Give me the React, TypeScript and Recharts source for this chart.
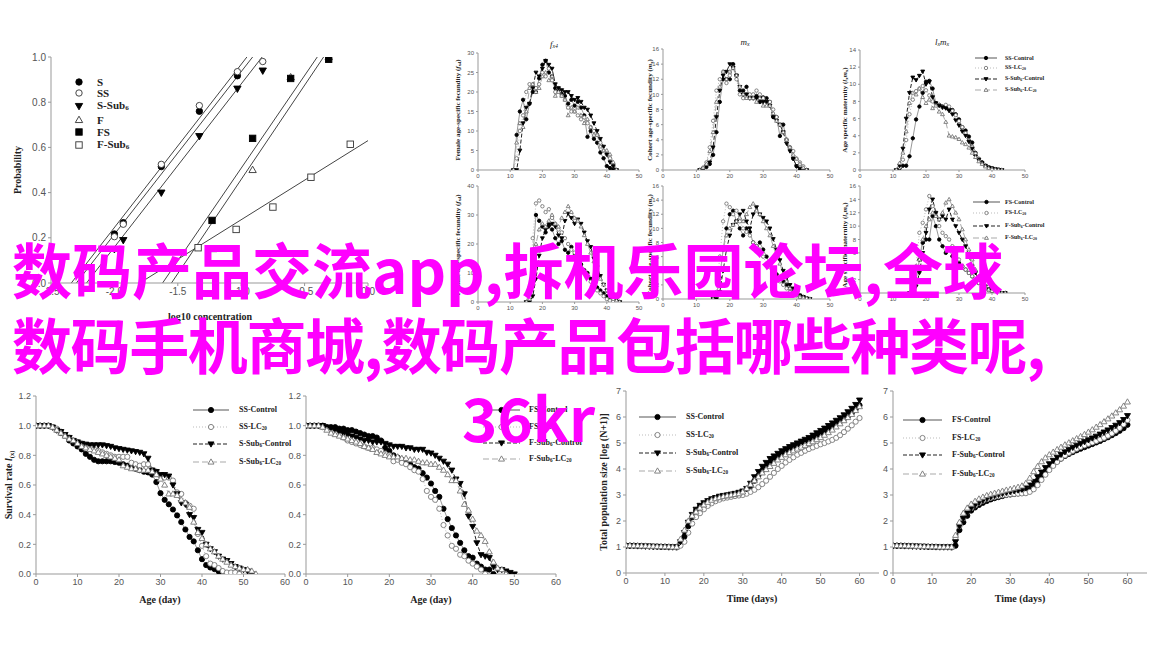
import React from "react";
import { LineChart, Line, XAxis, YAxis } from "recharts";

const SANS = "'Liberation Sans', Arial, sans-serif";
const SERIF = "'Liberation Serif', 'Times New Roman', serif";

// top-left: probability vs log10 concentration
const S_X = [-2.0, -1.93, -1.63, -1.33, -1.03];
const S_Y = [0.217, 0.267, 0.515, 0.76, 0.917];
const SS_X = [-2.0, -1.93, -1.63, -1.33, -1.03, -0.83];
const SS_Y = [0.205, 0.26, 0.525, 0.785, 0.935, 0.98];
const SSUB_X = [-2.0, -1.93, -1.63, -1.33, -1.03, -0.83];
const SSUB_Y = [0.15, 0.19, 0.4, 0.65, 0.86, 0.94];
const F_X = [-1.22, -0.91, -0.61, -0.31];
const F_Y = [0.15, 0.5, 0.91, 1.0];
const FS_X = [-1.23, -0.91, -0.61, -0.31];
const FS_Y = [0.277, 0.64, 0.905, 0.99];
const FSUB_X = [-1.34, -1.04, -0.75, -0.45, -0.14];
const FSUB_Y = [0.156, 0.237, 0.336, 0.468, 0.614];
// fitted lines (endpoints)
const FIT_Y = [0, 1];
const FIT_S_X = [-2.3, -0.91];
const FIT_SS_X = [-2.34, -0.955];
const FIT_SSUB_X = [-2.22, -0.835];
const FIT_F_X = [-1.62, -0.4];
const FIT_FS_X = [-1.55, -0.35];
const FIT_FSUB_X = [-1.8, 0];
const FIT_FSUB_Y = [0, 0.63];

// small panels: age (days)
const AGES_S = [11, 12, 13, 14, 15, 16, 17, 18, 19, 20, 21, 22, 23, 24, 25, 26, 27, 28, 29, 30, 31, 32, 33, 34, 35, 36, 37, 38, 39, 40, 41, 42, 43];
const AGES_F = [15, 16, 17, 18, 19, 20, 21, 22, 23, 24, 25, 26, 27, 28, 29, 30, 31, 32, 33, 34, 35, 36, 37, 38, 39, 40, 41, 42, 43, 44];

// f_x4 (S strain)
const FX_CTL = [0, 9, 15, 18, 13, 17, 20, 20, 23.5, 27, 28, 25, 24, 21, 20.5, 19.5, 19, 17, 18, 16.5, 17.5, 16, 14, 8.5, 10, 8, 7, 4.5, 3, 1, 0.5, 0.3, 0];
const FX_SUBCTL = [0, 0, 5, 12, 16, 17, 21, 25, 24, 26, 28, 27, 26, 22, 21, 20.5, 20, 20, 19, 18, 18.5, 17.5, 16, 15.5, 14, 12, 10, 8, 6, 4, 2, 1, 0];
const FX_LC = [0, 3, 10, 14, 20, 22, 22, 21, 22, 25, 24, 26, 23, 20, 21, 19, 18, 16, 15, 15, 14, 13, 13.5, 12, 11, 10, 9, 7, 5, 4, 3, 1, 0];
const FX_SUBLC = [0, 7, 12, 11, 15, 21, 22, 20, 21, 24, 25, 23, 24, 19, 20, 19, 18, 14, 16, 15, 16, 14, 12, 13, 11, 9, 9, 6, 5, 5, 4, 2, 0];
// m_x (S strain)
const MX_CTL = [0, 0.2, 0.4, 0.8, 2, 5, 9, 12, 12, 12, 14, 12.5, 10.5, 10.5, 11, 9.5, 9.5, 9.8, 9, 9.6, 9.5, 9, 7, 7, 4.5, 6, 4, 3, 1.5, 0.5, 0, 0, 0];
const MX_SUBCTL = [0, 0.1, 0.5, 1, 3, 7, 10.5, 12.5, 13, 14, 13.5, 12.5, 11, 10, 10, 9.5, 9.5, 9.5, 9.5, 9, 9, 8.5, 7, 6.5, 6, 5, 3.5, 2.5, 1.5, 0.5, 0.2, 0, 0];
const MX_LC = [0, 0.3, 1, 3, 6.5, 10.5, 12, 13, 11.5, 12.5, 13.5, 12, 10, 9.5, 10, 10, 10, 10.5, 10, 9.5, 9, 9, 8, 7, 6, 5, 4, 3, 2.5, 1.5, 1, 0.5, 0];
const MX_SUBLC = [0, 0.3, 0.8, 2.5, 5, 9, 11, 13, 12, 13, 13.5, 12.5, 11, 10, 9.5, 9.5, 9.5, 9, 9.5, 8.5, 8.5, 8.5, 7.5, 6.5, 6, 5, 4, 3, 2, 1.5, 0.8, 0.3, 0];
// l_x m_x (S strain)
const LM_CTL = [0, 0.2, 0.5, 0.5, 1.6, 3.7, 5.9, 7.4, 9, 10.3, 10.4, 9.5, 7.8, 7.6, 7.4, 7.3, 7.1, 7, 6.5, 5.9, 5, 4.6, 3.9, 3.2, 2, 1.3, 0.9, 0.5, 0.3, 0.2, 0.1, 0.05, 0];
const LM_SUBCTL = [0, 0.5, 2.5, 6, 9, 10.8, 10.5, 11, 11.5, 10, 10.3, 8.5, 7.8, 7.5, 7.3, 7.2, 6.9, 6.5, 5.8, 5.2, 4.5, 4, 3.3, 2.5, 1.6, 1.2, 0.8, 0.5, 0.3, 0.2, 0.1, 0, 0];
const LM_LC = [0, 0.3, 1.2, 3.5, 6.5, 8.2, 9.2, 9.5, 9.8, 9.3, 8.7, 8, 7.7, 7.6, 7.3, 7.6, 7.4, 6.9, 6.4, 5.7, 5, 4.3, 3.4, 2.7, 1.9, 1.3, 0.8, 0.5, 0.3, 0.2, 0.1, 0.05, 0];
const LM_SUBLC = [0, 0.8, 2, 4.5, 7.8, 9, 8.8, 9.5, 8.5, 7.8, 8.2, 7.2, 7.5, 6.8, 6.5, 5.6, 4, 3.9, 3.8, 3.6, 3.2, 3, 2.6, 2, 1.5, 1, 0.7, 0.4, 0.2, 0.1, 0.05, 0, 0];
// f_x4 (F strain)
const FFX_CTL = [0, 3, 15, 30, 28, 26, 24, 27, 25, 22, 20, 21, 18, 17, 19, 16, 15, 13, 11, 10, 8, 7, 5, 4, 3, 2, 1.5, 1, 0.5, 0];
const FFX_SUBCTL = [0, 0, 2, 8, 16, 22, 25, 26, 27, 26, 23, 22, 28, 30.5, 29, 27, 28.5, 27, 24, 21, 19, 15, 12, 9, 6, 4, 3, 2, 1, 0];
const FFX_LC = [0, 5, 22, 34, 35, 33, 31, 32, 29, 27, 25, 24, 22, 20, 18, 17, 14, 12, 10, 9, 7, 6, 4, 3, 2, 1, 0.5, 0.3, 0.1, 0];
const FFX_SUBLC = [0, 1, 10, 20, 25, 27, 26, 28, 30, 27, 26, 29, 31, 33, 31, 29, 28, 26, 23, 20, 17, 14, 11, 8, 6, 4, 2, 1, 0.5, 0];
// m_x (F strain)
const FMX_CTL = [0, 0.5, 3, 7, 10, 12, 12.5, 11, 10, 9, 10, 9.5, 8, 7.5, 8, 7, 6, 5, 4, 3.5, 3, 2.5, 2, 1.5, 1, 0.7, 0.5, 0.3, 0.1, 0];
const FMX_SUBCTL = [0, 0, 1, 4, 7, 9, 10.5, 11, 12, 12.5, 11, 10, 12, 13, 12, 11.5, 11, 10, 8.5, 7, 5.5, 4, 3, 2, 1.5, 1, 0.5, 0.3, 0.1, 0];
const FMX_LC = [0, 1, 6, 11, 13.5, 13, 12, 12.5, 11, 10, 9.5, 9, 8, 7.5, 7, 6, 5, 4.5, 4, 3, 2.5, 2, 1.5, 1, 0.7, 0.5, 0.3, 0.2, 0.1, 0];
const FMX_SUBLC = [0, 0.5, 3, 7, 9, 10, 10.5, 11, 11.5, 11, 12, 13, 13.5, 12.5, 12, 11, 10, 9, 7.5, 6, 5, 3.5, 2.5, 1.5, 1, 0.6, 0.3, 0.2, 0.1, 0];
// l_x m_x (F strain)
const FLM_CTL = [0, 0.5, 2, 5, 7.5, 8, 8, 11.5, 10, 8, 7, 6, 6.5, 5.5, 5, 4.5, 4, 3.5, 3, 2.5, 2, 1.5, 1.2, 0.8, 0.5, 0.3, 0.2, 0.1, 0, 0];
const FLM_SUBCTL = [0, 0, 1, 3, 6, 9, 12.5, 14, 12, 11, 11.5, 11, 12.5, 11, 10, 9, 8, 7, 5.5, 4, 3, 2, 1.5, 1, 0.6, 0.3, 0.2, 0.1, 0, 0];
const FLM_LC = [0, 1, 4, 9, 10.5, 12.5, 14.5, 13, 12, 10, 9, 8.5, 8, 7, 6, 5, 4, 3.5, 3, 2.5, 2, 1.5, 1, 0.7, 0.4, 0.2, 0.1, 0.05, 0, 0];
const FLM_SUBLC = [0, 0.5, 2, 5, 8, 10, 11, 12, 11.5, 11, 12, 13.5, 14, 13, 12, 11, 9.5, 8, 6.5, 5, 3.5, 2.5, 1.5, 1, 0.5, 0.3, 0.2, 0.1, 0, 0];

// bottom row: day 0..60
const DAYS = [0, 1, 2, 3, 4, 5, 6, 7, 8, 9, 10, 11, 12, 13, 14, 15, 16, 17, 18, 19, 20, 21, 22, 23, 24, 25, 26, 27, 28, 29, 30, 31, 32, 33, 34, 35, 36, 37, 38, 39, 40, 41, 42, 43, 44, 45, 46, 47, 48, 49, 50, 51, 52, 53, 54, 55, 56, 57, 58, 59, 60];

// survival rate l_x, S strain
const SURV_SS_CTL = [1, 1, 1, 1, 0.99, 0.97, 0.95, 0.93, 0.9, 0.88, 0.86, 0.84, 0.81, 0.79, 0.77, 0.76, 0.76, 0.76, 0.76, 0.755, 0.75, 0.74, 0.73, 0.72, 0.71, 0.7, 0.69, 0.685, 0.67, 0.62, 0.545, 0.5, 0.47, 0.435, 0.395, 0.35, 0.3, 0.25, 0.22, 0.16, 0.1, 0.06, 0.044, 0.033, 0.018, 0];
const SURV_SS_LC = [1, 1, 1, 1, 0.99, 0.98, 0.96, 0.93, 0.92, 0.9, 0.89, 0.88, 0.87, 0.86, 0.84, 0.83, 0.82, 0.81, 0.8, 0.79, 0.79, 0.79, 0.79, 0.75, 0.74, 0.73, 0.74, 0.74, 0.7, 0.69, 0.66, 0.65, 0.65, 0.63, 0.55, 0.54, 0.48, 0.46, 0.44, 0.27, 0.19, 0.12, 0.07, 0.06, 0.04, 0.02, 0.01, 0.01, 0.01, 0];
const SURV_SSUB_CTL = [1, 1, 1, 1, 0.99, 0.97, 0.96, 0.94, 0.92, 0.9, 0.89, 0.88, 0.875, 0.87, 0.87, 0.87, 0.87, 0.865, 0.86, 0.85, 0.845, 0.84, 0.835, 0.83, 0.825, 0.82, 0.81, 0.78, 0.7, 0.69, 0.67, 0.67, 0.66, 0.6, 0.54, 0.48, 0.47, 0.4, 0.38, 0.3, 0.28, 0.2, 0.17, 0.15, 0.12, 0.1, 0.09, 0.07, 0.05, 0.04, 0.03, 0.02, 0];
const SURV_SSUB_LC = [1, 1, 1, 1, 0.99, 0.97, 0.95, 0.93, 0.91, 0.9, 0.88, 0.86, 0.85, 0.84, 0.83, 0.82, 0.81, 0.8, 0.79, 0.78, 0.77, 0.73, 0.72, 0.71, 0.71, 0.7, 0.7, 0.7, 0.69, 0.67, 0.64, 0.6, 0.54, 0.54, 0.53, 0.5, 0.48, 0.45, 0.35, 0.28, 0.24, 0.2, 0.17, 0.15, 0.12, 0.1, 0.08, 0.06, 0.05, 0.04, 0.03, 0.03, 0.02, 0];
// survival rate l_x, F strain
const SURV_FS_CTL = [1, 1, 1, 1, 1, 0.99, 0.99, 0.99, 0.98, 0.98, 0.97, 0.97, 0.96, 0.95, 0.94, 0.93, 0.93, 0.92, 0.9, 0.85, 0.83, 0.8, 0.785, 0.77, 0.76, 0.74, 0.72, 0.71, 0.68, 0.65, 0.61, 0.56, 0.52, 0.44, 0.37, 0.31, 0.26, 0.21, 0.16, 0.12, 0.11, 0.07, 0.05, 0.03, 0.03, 0];
const SURV_FS_LC = [1, 1, 1, 1, 0.99, 0.98, 0.97, 0.96, 0.94, 0.92, 0.9, 0.89, 0.88, 0.87, 0.86, 0.85, 0.85, 0.84, 0.83, 0.81, 0.8, 0.76, 0.77, 0.75, 0.74, 0.72, 0.7, 0.69, 0.64, 0.56, 0.52, 0.5, 0.44, 0.33, 0.26, 0.19, 0.17, 0.13, 0.12, 0.09, 0.07, 0.05, 0.03, 0];
const SURV_FSUB_CTL = [1, 1, 1, 1, 1, 0.99, 0.98, 0.97, 0.96, 0.95, 0.94, 0.93, 0.92, 0.91, 0.9, 0.9, 0.89, 0.89, 0.89, 0.88, 0.87, 0.86, 0.86, 0.86, 0.85, 0.85, 0.84, 0.84, 0.84, 0.82, 0.815, 0.8, 0.78, 0.76, 0.74, 0.7, 0.64, 0.61, 0.54, 0.39, 0.32, 0.21, 0.13, 0.12, 0.11, 0.05, 0.03, 0.03, 0.02, 0.01, 0];
const SURV_FSUB_LC = [1, 1, 1, 1, 0.99, 0.97, 0.95, 0.94, 0.93, 0.92, 0.91, 0.9, 0.89, 0.88, 0.86, 0.85, 0.84, 0.82, 0.81, 0.8, 0.79, 0.79, 0.79, 0.78, 0.78, 0.77, 0.77, 0.76, 0.75, 0.75, 0.74, 0.74, 0.72, 0.7, 0.67, 0.63, 0.63, 0.56, 0.47, 0.43, 0.37, 0.29, 0.26, 0.22, 0.15, 0.08, 0.04, 0.03, 0];

// total population size log(N+1), S strain
const POP_SS_CTL = [1.05, 1.05, 1.05, 1.04, 1.04, 1.03, 1.03, 1.02, 1.02, 1.01, 1.01, 1.0, 1.0, 1.0, 1.15, 1.4, 1.8, 2.15, 2.4, 2.55, 2.65, 2.75, 2.82, 2.88, 2.92, 2.96, 2.99, 3.01, 3.03, 3.06, 3.1, 3.2, 3.35, 3.55, 3.75, 3.95, 4.1, 4.25, 4.4, 4.5, 4.6, 4.7, 4.8, 4.88, 4.95, 5.02, 5.08, 5.15, 5.22, 5.3, 5.38, 5.46, 5.55, 5.64, 5.73, 5.83, 5.93, 6.03, 6.15, 6.3, 6.45];
const POP_SS_LC = [1.05, 1.05, 1.04, 1.04, 1.03, 1.03, 1.02, 1.02, 1.01, 1.0, 1.0, 0.99, 0.99, 0.98, 1.05, 1.2, 1.55, 1.9, 2.15, 2.3, 2.45, 2.58, 2.68, 2.76, 2.82, 2.87, 2.9, 2.93, 2.96, 2.98, 3.0, 3.05, 3.12, 3.2, 3.3, 3.42, 3.55, 3.7, 3.85, 4.0, 4.12, 4.25, 4.35, 4.45, 4.55, 4.62, 4.7, 4.77, 4.83, 4.89, 4.95, 5.0, 5.06, 5.12, 5.2, 5.3, 5.42, 5.55, 5.68, 5.82, 5.96];
const POP_SSUB_CTL = [1.05, 1.05, 1.05, 1.04, 1.04, 1.03, 1.03, 1.02, 1.02, 1.01, 1.01, 1.0, 1.0, 1.0, 1.2, 1.55, 1.95, 2.25, 2.45, 2.6, 2.7, 2.78, 2.85, 2.9, 2.95, 2.98, 3.0, 3.03, 3.06, 3.1, 3.15, 3.25, 3.45, 3.7, 3.9, 4.1, 4.25, 4.4, 4.5, 4.6, 4.7, 4.78, 4.86, 4.93, 5.0, 5.07, 5.14, 5.21, 5.3, 5.39, 5.48, 5.57, 5.67, 5.77, 5.87, 5.97, 6.08, 6.2, 6.33, 6.48, 6.65];
const POP_SSUB_LC = [1.06, 1.06, 1.05, 1.05, 1.04, 1.04, 1.03, 1.03, 1.02, 1.02, 1.01, 1.01, 1.0, 1.0, 1.3, 1.65, 2.0, 2.2, 2.35, 2.5, 2.62, 2.72, 2.8, 2.86, 2.9, 2.94, 2.97, 3.0, 3.02, 3.05, 3.12, 3.25, 3.4, 3.55, 3.7, 3.85, 3.98, 4.1, 4.22, 4.35, 4.45, 4.55, 4.63, 4.7, 4.77, 4.84, 4.91, 4.98, 5.05, 5.13, 5.21, 5.3, 5.4, 5.5, 5.62, 5.74, 5.86, 5.98, 6.1, 6.25, 6.4];
// total population size log(N+1), F strain
const POP_FS_CTL = [1.05, 1.05, 1.05, 1.04, 1.04, 1.03, 1.03, 1.02, 1.02, 1.01, 1.01, 1.0, 1.0, 1.0, 1.0, 1.0, 1.05, 1.65, 1.95, 2.2, 2.4, 2.52, 2.62, 2.7, 2.77, 2.83, 2.88, 2.92, 2.96, 3.0, 3.02, 3.04, 3.06, 3.08, 3.12, 3.2, 3.35, 3.55, 3.75, 3.9, 4.05, 4.18, 4.3, 4.4, 4.5, 4.58, 4.65, 4.72, 4.78, 4.84, 4.9, 4.96, 5.02, 5.08, 5.15, 5.22, 5.3, 5.38, 5.47, 5.57, 5.7];
const POP_FS_LC = [1.05, 1.05, 1.04, 1.04, 1.03, 1.03, 1.02, 1.02, 1.01, 1.01, 1.0, 1.0, 0.99, 0.99, 0.99, 0.98, 1.3, 1.8, 2.1, 2.35, 2.5, 2.6, 2.7, 2.78, 2.84, 2.89, 2.93, 2.96, 2.99, 3.01, 3.03, 3.04, 3.05, 3.06, 3.07, 3.12, 3.22, 3.38, 3.58, 3.78, 3.96, 4.12, 4.27, 4.4, 4.52, 4.62, 4.7, 4.78, 4.85, 4.91, 4.97, 5.02, 5.08, 5.14, 5.2, 5.28, 5.37, 5.47, 5.58, 5.72, 5.88];
const POP_FSUB_CTL = [1.05, 1.05, 1.05, 1.04, 1.04, 1.03, 1.03, 1.02, 1.02, 1.01, 1.01, 1.0, 1.0, 1.0, 1.0, 1.0, 1.2, 1.8, 2.1, 2.3, 2.5, 2.62, 2.72, 2.8, 2.87, 2.93, 2.98, 3.02, 3.06, 3.1, 3.13, 3.16, 3.19, 3.22, 3.28, 3.38, 3.52, 3.7, 3.88, 4.05, 4.2, 4.33, 4.45, 4.56, 4.66, 4.75, 4.83, 4.91, 4.98, 5.05, 5.12, 5.19, 5.26, 5.34, 5.42, 5.5, 5.59, 5.68, 5.78, 5.9, 6.05];
const POP_FSUB_LC = [1.06, 1.06, 1.05, 1.05, 1.04, 1.04, 1.03, 1.03, 1.02, 1.02, 1.01, 1.01, 1.0, 1.0, 1.0, 1.0, 1.45, 1.95, 2.3, 2.5, 2.65, 2.76, 2.85, 2.92, 2.98, 3.03, 3.07, 3.11, 3.15, 3.19, 3.22, 3.26, 3.3, 3.35, 3.45, 3.65, 3.9, 4.1, 4.28, 4.43, 4.55, 4.65, 4.75, 4.84, 4.93, 5.01, 5.09, 5.17, 5.25, 5.33, 5.42, 5.51, 5.61, 5.71, 5.82, 5.93, 6.04, 6.16, 6.28, 6.42, 6.58];

const pts = (xs: number[], ys: number[]) => ys.map((y, i) => ({ x: xs[i], y }));

// marker + line looks
const CTL = { kind: "circle", filled: true, edge: "#000", stroke: "#999", dash: undefined, lw: 1 };
const LC = { kind: "circle", filled: false, edge: "#777", stroke: "#bbb", dash: "1 2", lw: 1 };
const SUBCTL = { kind: "triDown", filled: true, edge: "#000", stroke: "#222", dash: "4 2", lw: 1 };
const SUBLC = { kind: "triUp", filled: false, edge: "#777", stroke: "#aaa", dash: "6 3", lw: 1 };

function Marker({ cx, cy, s, look }: any) {
  if (cx == null || cy == null || isNaN(cx) || isNaN(cy)) return <g />;
  const fill = look.filled ? "#000" : "#fff";
  const stroke = look.edge;
  if (look.kind === "circle") return <circle cx={cx} cy={cy} r={s} fill={fill} stroke={stroke} strokeWidth={0.9} />;
  if (look.kind === "square")
    return <rect x={cx - s} y={cy - s} width={2 * s} height={2 * s} fill={fill} stroke={stroke} strokeWidth={0.9} />;
  const pt =
    look.kind === "triDown"
      ? `${cx - s * 1.15},${cy - s * 0.8} ${cx + s * 1.15},${cy - s * 0.8} ${cx},${cy + s * 1.2}`
      : `${cx - s * 1.15},${cy + s * 0.8} ${cx + s * 1.15},${cy + s * 0.8} ${cx},${cy - s * 1.2}`;
  return <polygon points={pt} fill={fill} stroke={stroke} strokeWidth={0.9} />;
}

function Panel({ l, t, r, b, xDomain, yDomain, xTicks, yTicks, fmtX, fmtY, series, ms, fs, yw = 28, xh = 18, ts = 3 }: any) {
  const PAD = 8;
  const w = r - l + yw + PAD;
  const h = b - t + PAD + xh;
  const tick = { fontSize: fs, fill: "#555", fontFamily: SANS };
  return (
    <div style={{ position: "absolute", left: l - yw, top: t - PAD }}>
      <LineChart width={w} height={h} margin={{ top: PAD, right: PAD, bottom: 0, left: 0 }}>
        <XAxis type="number" dataKey="x" domain={xDomain} ticks={xTicks} interval={0} allowDataOverflow height={xh}
          tick={tick} tickFormatter={fmtX} axisLine={{ stroke: "#999" }} tickLine={{ stroke: "#999" }} tickSize={ts} />
        <YAxis type="number" domain={yDomain} ticks={yTicks} interval={0} allowDataOverflow width={yw}
          tick={tick} tickFormatter={fmtY} axisLine={{ stroke: "#999" }} tickLine={{ stroke: "#999" }} tickSize={ts} />
        {series.map((s: any) => (
          <Line key={s.id} data={s.data} dataKey="y" type="linear"
            stroke={s.noLine ? "none" : s.stroke ?? s.look.stroke}
            strokeDasharray={s.noLine ? undefined : s.look?.dash}
            strokeWidth={1}
            dot={s.noDot ? false : (p: any) => <Marker key={`${s.id}-${p.index}`} cx={p.cx} cy={p.cy} s={ms} look={s.look} />}
            activeDot={false} isAnimationActive={false} />
        ))}
      </LineChart>
    </div>
  );
}

function T({ x, y, size, children, bold, italic, rot, anchor = "middle", family = SERIF, color = "#222" }: any) {
  const tx = anchor === "middle" ? "-50%" : anchor === "end" ? "-100%" : "0";
  return (
    <div style={{
      position: "absolute", left: x, top: y, whiteSpace: "nowrap", lineHeight: 1,
      transform: `translate(${tx}, -50%)${rot ? " rotate(-90deg)" : ""}`,
      fontSize: size, fontFamily: family, fontWeight: bold ? 700 : 400, fontStyle: italic ? "italic" : "normal", color,
    }}>{children}</div>
  );
}

const sub = (s: string) => <sub style={{ fontSize: "65%", verticalAlign: "-0.25em" }}>{s}</sub>;

function LegendRow({ x1, x2, y, s, look, label, size, textX, noLine }: any) {
  const w = x2 - x1;
  return (
    <>
      <svg style={{ position: "absolute", left: x1, top: y - 7 }} width={w} height={14}>
        {!noLine && <line x1={0} y1={7} x2={w} y2={7} stroke={look.kind === "circle" && look.filled ? "#aaa" : look.stroke}
          strokeWidth={look.kind === "circle" && look.filled ? 2 : 1.2} strokeDasharray={look.dash} />}
        <Marker cx={w / 2} cy={7} s={s} look={look} />
      </svg>
      <T x={textX} y={y} size={size} bold anchor="start">{label}</T>
    </>
  );
}

const SMALL_X = [0, 10, 20, 30, 40, 50];
const int = (v: number) => String(v);
const f1 = (v: number) => v.toFixed(1);

function SmallPanel(p: any) {
  return <Panel {...p} xDomain={[0, 50]} xTicks={SMALL_X} fmtX={int} fmtY={int} ms={1.7} fs={6} yw={16} xh={12} ts={2} />;
}

const four = (xs: number[], a: number[], b: number[], c: number[], d: number[]) => [
  { id: "ctl", data: pts(xs, a), look: CTL },
  { id: "lc", data: pts(xs, b), look: LC },
  { id: "subctl", data: pts(xs, c), look: SUBCTL },
  { id: "sublc", data: pts(xs, d), look: SUBLC },
];

const S_LABELS = [<>SS-Control</>, <>SS-LC{sub("20")}</>, <>S-Sub{sub("6")}-Control</>, <>S-Sub{sub("6")}-LC{sub("20")}</>];
const F_LABELS = [<>FS-Control</>, <>FS-LC{sub("20")}</>, <>F-Sub{sub("6")}-Control</>, <>F-Sub{sub("6")}-LC{sub("20")}</>];
const LOOKS = [CTL, LC, SUBCTL, SUBLC];

function Legend4({ x1, x2, textX, rows, labels, s, size }: any) {
  return <>{rows.map((y: number, i: number) => (
    <LegendRow key={i} x1={x1} x2={x2} y={y} s={s} look={LOOKS[i]} label={labels[i]} size={size} textX={textX} />
  ))}</>;
}

export default function App() {
  const probSeries = [
    { id: "fs", data: pts(FIT_S_X, FIT_Y), noDot: true, stroke: "#444" },
    { id: "fss", data: pts(FIT_SS_X, FIT_Y), noDot: true, stroke: "#444" },
    { id: "fssub", data: pts(FIT_SSUB_X, FIT_Y), noDot: true, stroke: "#444" },
    { id: "ff", data: pts(FIT_F_X, FIT_Y), noDot: true, stroke: "#444" },
    { id: "ffs", data: pts(FIT_FS_X, FIT_Y), noDot: true, stroke: "#444" },
    { id: "ffsub", data: pts(FIT_FSUB_X, FIT_FSUB_Y), noDot: true, stroke: "#444" },
    { id: "s", data: pts(S_X, S_Y), noLine: true, look: { kind: "circle", filled: true, edge: "#000" } },
    { id: "ss", data: pts(SS_X, SS_Y), noLine: true, look: { kind: "circle", filled: false, edge: "#333" } },
    { id: "ssub", data: pts(SSUB_X, SSUB_Y), noLine: true, look: { kind: "triDown", filled: true, edge: "#000" } },
    { id: "f", data: pts(F_X, F_Y), noLine: true, look: { kind: "triUp", filled: false, edge: "#333" } },
    { id: "fsq", data: pts(FS_X, FS_Y), noLine: true, look: { kind: "square", filled: true, edge: "#000" } },
    { id: "fsub", data: pts(FSUB_X, FSUB_Y), noLine: true, look: { kind: "square", filled: false, edge: "#333" } },
  ];
  const probLegend = [
    { label: <>S</>, look: probSeries[6].look },
    { label: <>SS</>, look: probSeries[7].look },
    { label: <>S-Sub{sub("6")}</>, look: probSeries[8].look },
    { label: <>F</>, look: probSeries[9].look },
    { label: <>FS</>, look: probSeries[10].look },
    { label: <>F-Sub{sub("6")}</>, look: probSeries[11].look },
  ];
  const probRows = [82, 93, 106, 120, 132, 145];

  return (
    <div style={{ position: "absolute", left: 0, top: 0, width: 1164, height: 657, background: "#fff", overflow: "hidden" }}>
      {/* probability plot */}
      <Panel l={51} t={57} r={368} b={283} xDomain={[-2.5, 0]} yDomain={[0, 1]}
        xTicks={[-2.5, -2.0, -1.5, -1.0, -0.5, 0]} yTicks={[0, 0.2, 0.4, 0.6, 0.8, 1.0]}
        fmtX={f1} fmtY={f1} series={probSeries} ms={3.2} fs={10} yw={30} xh={20} ts={3} />
      {probLegend.map((e, i) => (
        <LegendRow key={i} x1={72} x2={86} y={probRows[i]} s={3.2} look={e.look} label={e.label} size={11} textX={97} noLine />
      ))}
      <T x={18} y={170} size={10} bold rot>Probability</T>
      <T x={210} y={317} size={10} bold>log10 concentration</T>

      {/* row 1 small panels (S strain) */}
      <SmallPanel l={478} t={53} r={639} b={170} yDomain={[0, 30]} yTicks={[0, 5, 10, 15, 20, 25, 30]}
        series={four(AGES_S, FX_CTL, FX_LC, FX_SUBCTL, FX_SUBLC)} />
      <SmallPanel l={663} t={49} r={830} b={170} yDomain={[0, 16]} yTicks={[0, 2, 4, 6, 8, 10, 12, 14, 16]}
        series={four(AGES_S, MX_CTL, MX_LC, MX_SUBCTL, MX_SUBLC)} />
      <SmallPanel l={860} t={50} r={1025} b={170} yDomain={[0, 14]} yTicks={[0, 2, 4, 6, 8, 10, 12, 14]}
        series={four(AGES_S, LM_CTL, LM_LC, LM_SUBCTL, LM_SUBLC)} />
      <T x={554} y={45} size={9} italic>f{sub("x4")}</T>
      <T x={745} y={43} size={9} italic>m{sub("x")}</T>
      <T x={942} y={43} size={9} italic>l{sub("x")}m{sub("x")}</T>
      <T x={459} y={110} size={7} bold rot>Female age-specific fecundity (<i>f</i>{sub("x4")})</T>
      <T x={651} y={110} size={7} bold rot>Cohort age-specific fecundity (<i>m</i>{sub("x")})</T>
      <T x={846} y={110} size={7} bold rot>Age specific maternity (<i>l</i>{sub("x")}<i>m</i>{sub("x")})</T>
      <Legend4 x1={975} x2={997} textX={1005} rows={[58, 68, 79, 90]} labels={S_LABELS} s={1.7} size={6} />

      {/* row 2 small panels (F strain) */}
      <SmallPanel l={478} t={186} r={639} b={302} yDomain={[0, 40]} yTicks={[0, 10, 20, 30, 40]}
        series={four(AGES_F, FFX_CTL, FFX_LC, FFX_SUBCTL, FFX_SUBLC)} />
      <SmallPanel l={663} t={186} r={830} b={299} yDomain={[0, 16]} yTicks={[0, 2, 4, 6, 8, 10, 12, 14, 16]}
        series={four(AGES_F, FMX_CTL, FMX_LC, FMX_SUBCTL, FMX_SUBLC)} />
      <SmallPanel l={860} t={186} r={1025} b={293} yDomain={[0, 16]} yTicks={[0, 2, 4, 6, 8, 10, 12, 14, 16]}
        series={four(AGES_F, FLM_CTL, FLM_LC, FLM_SUBCTL, FLM_SUBLC)} />
      <T x={459} y={245} size={7} bold rot>Female age-specific fecundity (<i>f</i>{sub("x4")})</T>
      <T x={651} y={245} size={7} bold rot>Cohort age-specific fecundity (<i>m</i>{sub("x")})</T>
      <T x={846} y={245} size={7} bold rot>Age specific maternity (<i>l</i>{sub("x")}<i>m</i>{sub("x")})</T>
      <Legend4 x1={973} x2={1000} textX={1005} rows={[202, 213, 226, 238]} labels={F_LABELS} s={1.7} size={6} />

      {/* bottom: survival */}
      <Panel l={36} t={396} r={285} b={574} xDomain={[0, 60]} yDomain={[0, 1.2]}
        xTicks={[0, 10, 20, 30, 40, 50, 60]} yTicks={[0, 0.2, 0.4, 0.6, 0.8, 1.0, 1.2]} fmtX={int} fmtY={f1}
        series={four(DAYS, SURV_SS_CTL, SURV_SS_LC, SURV_SSUB_CTL, SURV_SSUB_LC)} ms={2.6} fs={9} />
      <Panel l={306} t={396} r={556} b={574} xDomain={[0, 60]} yDomain={[0, 1.2]}
        xTicks={[0, 10, 20, 30, 40, 50, 60]} yTicks={[0, 0.2, 0.4, 0.6, 0.8, 1.0, 1.2]} fmtX={int} fmtY={f1}
        series={four(DAYS, SURV_FS_CTL, SURV_FS_LC, SURV_FSUB_CTL, SURV_FSUB_LC)} ms={2.6} fs={9} />
      <T x={10} y={485} size={10} bold rot>Survival rate <i>l</i>{sub("(x)")}</T>
      <T x={160} y={600} size={10} bold>Age (day)</T>
      <T x={431} y={600} size={10} bold>Age (day)</T>
      <Legend4 x1={193} x2={229} textX={239} rows={[410, 427, 444, 462]} labels={S_LABELS} s={2.6} size={8} />
      <Legend4 x1={483} x2={520} textX={529} rows={[410, 427, 443, 459]} labels={F_LABELS} s={2.6} size={8} />

      {/* bottom: population size */}
      <Panel l={626} t={391} r={879} b={573} xDomain={[0, 65]} yDomain={[0, 7]}
        xTicks={[0, 10, 20, 30, 40, 50, 60]} yTicks={[0, 1, 2, 3, 4, 5, 6, 7]} fmtX={int} fmtY={int}
        series={four(DAYS, POP_SS_CTL, POP_SS_LC, POP_SSUB_CTL, POP_SSUB_LC)} ms={2.6} fs={9} />
      <Panel l={893} t={391} r={1147} b={573} xDomain={[0, 65]} yDomain={[0, 7]}
        xTicks={[0, 10, 20, 30, 40, 50, 60]} yTicks={[0, 1, 2, 3, 4, 5, 6, 7]} fmtX={int} fmtY={int}
        series={four(DAYS, POP_FS_CTL, POP_FS_LC, POP_FSUB_CTL, POP_FSUB_LC)} ms={2.6} fs={9} />
      <T x={604} y={482} size={10} bold rot>Total population size [log (N+1)]</T>
      <T x={752} y={599} size={10} bold>Time (days)</T>
      <T x={1020} y={599} size={10} bold>Time (days)</T>
      <Legend4 x1={639} x2={676} textX={686} rows={[417, 435, 453, 471]} labels={S_LABELS} s={2.6} size={8} />
      <Legend4 x1={903} x2={942} textX={952} rows={[420, 438, 455, 474]} labels={F_LABELS} s={2.6} size={8} />

      {/* magenta overlay text */}
      {[
        { x: 12, y: 238, ls: 0, text: "数码产品交流app,拆机乐园论坛,全球" },
        { x: 12, y: 313, ls: -1.4, text: "数码手机商城,数码产品包括哪些种类呢," },
        { x: 462, y: 386, ls: 0, text: "36kr" },
      ].map((ln, i) => (
        <div key={i} style={{
          position: "absolute", left: ln.x, top: ln.y, whiteSpace: "nowrap", fontSize: 60, lineHeight: "60px",
          letterSpacing: ln.ls, fontWeight: 700, color: "#ff00ff", fontFamily: "'Noto Sans CJK SC', sans-serif",
        }}>{ln.text}</div>
      ))}
    </div>
  );
}
